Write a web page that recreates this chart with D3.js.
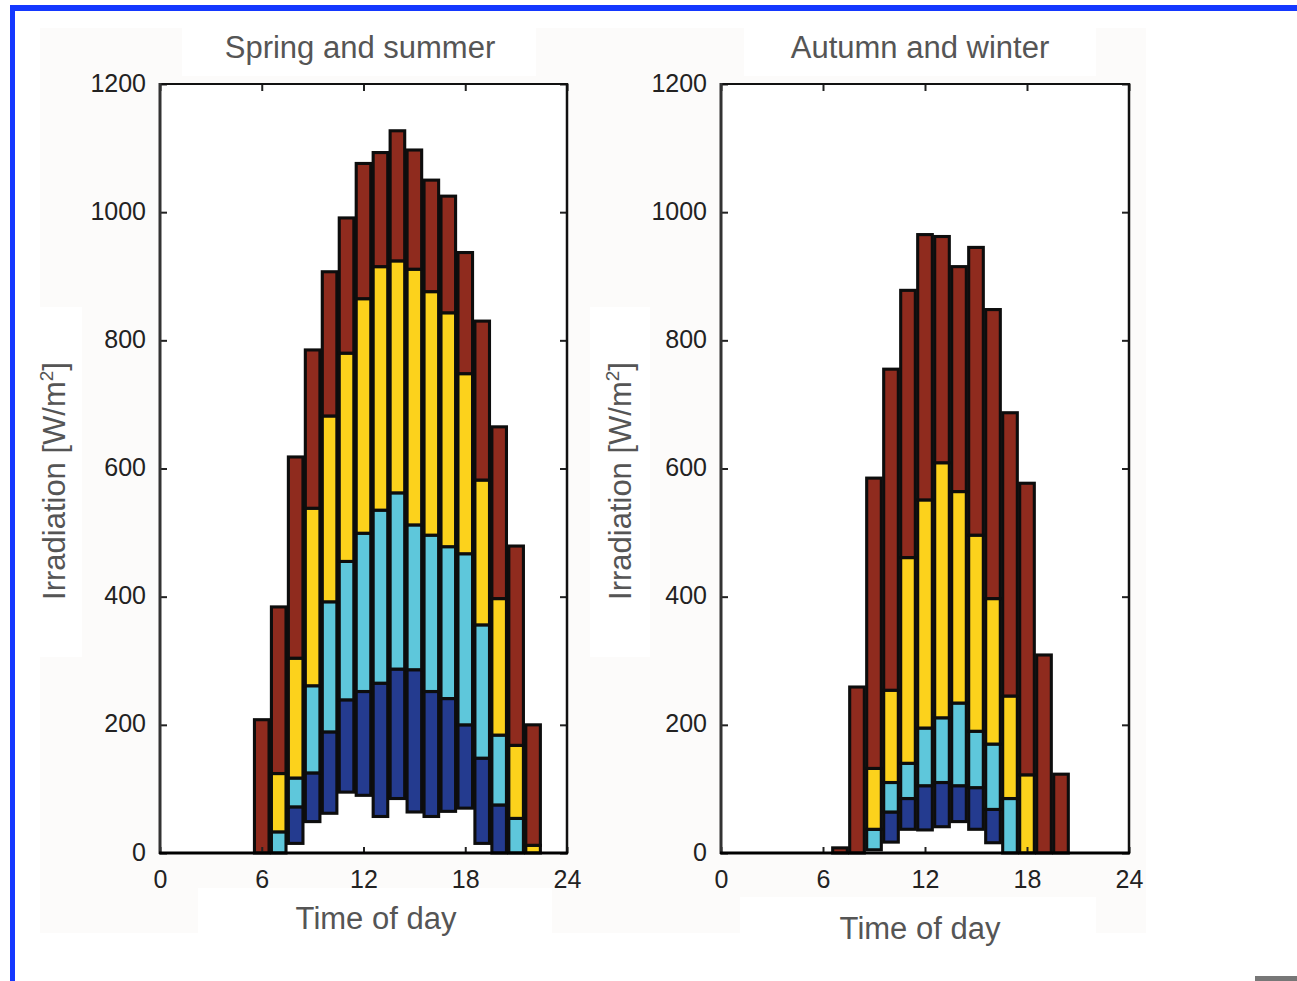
<!DOCTYPE html>
<html><head><meta charset="utf-8">
<script src="https://cdn.jsdelivr.net/npm/d3@7"></script>
<style>
html,body{margin:0;padding:0;background:#fff;}
svg{display:block;}
</style></head>
<body>
<svg id="chart" width="1297" height="981"></svg>
<script>
// ---- Data ----
const panelTitles = ["Spring and summer", "Autumn and winter"];
const xTickValues = [0, 6, 12, 18, 24];
const yTickValues = [0, 200, 400, 600, 800, 1000, 1200];
const seriesColors = ["#243b8f", "#5ec7db", "#fcd21c", "#8f2b1e"]; // blue, cyan, yellow, red

// Spring and summer: cumulative levels per hour
const springHours  = [6, 7, 8, 9, 10, 11, 12, 13, 14, 15, 16, 17, 18, 19, 20, 21, 22];
const springBase   = [0, 0, 15, 49, 62, 95, 90, 57, 85, 64, 57, 65, 70, 15, 0, 0, 0];
const springBlue   = [0, 0, 72, 125, 189, 239, 252, 265, 287, 286, 252, 241, 200, 148, 75, 0, 0];
const springCyan   = [0, 33, 117, 261, 392, 455, 499, 535, 562, 512, 496, 478, 467, 356, 184, 54, 0];
const springYellow = [0, 124, 304, 538, 682, 780, 865, 915, 924, 911, 876, 843, 748, 582, 397, 168, 12];
const springRed    = [208, 384, 618, 785, 907, 991, 1076, 1093, 1127, 1097, 1050, 1025, 937, 830, 665, 479, 200];

// Autumn and winter
const autumnHours  = [7, 8, 9, 10, 11, 12, 13, 14, 15, 16, 17, 18, 19, 20];
const autumnBase   = [0, 0, 5, 17, 37, 36, 41, 49, 37, 16, 0, 0, 0, 0];
const autumnBlue   = [0, 0, 5, 64, 85, 105, 110, 105, 102, 68, 0, 0, 0, 0];
const autumnCyan   = [0, 0, 37, 110, 140, 195, 211, 234, 190, 170, 85, 0, 0, 0];
const autumnYellow = [0, 0, 132, 254, 461, 551, 609, 564, 496, 397, 245, 122, 0, 0];
const autumnRed    = [8, 259, 585, 755, 878, 965, 962, 915, 945, 848, 687, 577, 309, 123];

const svg = d3.select("#chart");
const FONT = "'Liberation Sans', Arial, sans-serif";

// page frame (blue border)
svg.append("rect").attr("x", 10).attr("y", 5).attr("width", 1287).attr("height", 6).attr("fill", "#1438ff");
svg.append("rect").attr("x", 10).attr("y", 5).attr("width", 5).attr("height", 976).attr("fill", "#1438ff");
svg.append("rect").attr("x", 1255).attr("y", 976).attr("width", 42).attr("height", 5).attr("fill", "#777");

// faint pasted-image background
svg.append("rect").attr("x", 40).attr("y", 28).attr("width", 1106).attr("height", 905).attr("fill", "#fcfbfa");
[[182, 28, 354, 48], [744, 28, 352, 48], [40, 307, 42, 350], [590, 307, 60, 350],
 [198, 888, 354, 45], [740, 897, 356, 50]].forEach(b => {
  svg.append("rect").attr("x", b[0]).attr("y", b[1]).attr("width", b[2]).attr("height", b[3]).attr("fill", "#fff");
});

const panels = [
  {title: panelTitles[0], left: 160, right: 567, titleX: 360, ylabX: 65, xlabX: 376, xlabY: 929,
   hours: springHours, levels: [springBase, springBlue, springCyan, springYellow, springRed]},
  {title: panelTitles[1], left: 721, right: 1129, titleX: 920, ylabX: 631, xlabX: 920, xlabY: 939,
   hours: autumnHours, levels: [autumnBase, autumnBlue, autumnCyan, autumnYellow, autumnRed]}
];

panels.forEach(p => {
  const x = d3.scaleLinear().domain([0, 24]).range([p.left, p.right]);
  const y = d3.scaleLinear().domain([0, 1200]).range([853, 84]);
  const g = svg.append("g");

  // plot background
  g.append("rect").attr("x", p.left).attr("y", 84).attr("width", p.right - p.left).attr("height", 769).attr("fill", "#fff");

  // bar segments
  const bw = (x(1) - x(0)) * 0.86;
  const segs = [];
  p.hours.forEach((h, i) => {
    for (let k = 1; k < p.levels.length; k++) {
      const lo = p.levels[k - 1][i], hi = p.levels[k][i];
      if (hi > lo) segs.push({h, lo, hi, c: seriesColors[k - 1]});
    }
  });
  g.selectAll("rect.seg").data(segs).join("rect")
    .attr("class", "seg")
    .attr("x", d => x(d.h) - bw / 2)
    .attr("width", bw)
    .attr("y", d => y(d.hi))
    .attr("height", d => y(d.lo) - y(d.hi))
    .attr("fill", d => d.c)
    .attr("stroke", "#0d0d0d")
    .attr("stroke-width", 3.1);

  // axes
  const fmt = d3.format("d");
  const ax = g.append("g").attr("transform", "translate(0,853)")
    .call(d3.axisBottom(x).tickValues(xTickValues).tickSize(-6).tickPadding(17).tickFormat(fmt));
  const ay = g.append("g").attr("transform", `translate(${p.left},0)`)
    .call(d3.axisLeft(y).tickValues(yTickValues).tickSize(-7).tickPadding(14).tickFormat(fmt));
  const at = g.append("g").attr("transform", "translate(0,84)")
    .call(d3.axisTop(x).tickValues(xTickValues).tickSize(-7).tickFormat(""));
  const ar = g.append("g").attr("transform", `translate(${p.right},0)`)
    .call(d3.axisRight(y).tickValues(yTickValues).tickSize(-7).tickFormat(""));
  [ax, ay, at, ar].forEach(a => {
    a.select(".domain").remove();
    a.selectAll(".tick line").attr("stroke", "#222").attr("stroke-width", 2);
    a.selectAll(".tick text").attr("font-family", FONT).attr("font-size", 25).attr("fill", "#222");
  });
  ay.selectAll(".tick text").attr("dy", "0.28em");

  // box
  g.append("line").attr("x1", p.left).attr("x2", p.right).attr("y1", 84).attr("y2", 84).attr("stroke", "#111").attr("stroke-width", 2);
  g.append("line").attr("x1", p.right).attr("x2", p.right).attr("y1", 83).attr("y2", 854).attr("stroke", "#111").attr("stroke-width", 2.5);
  g.append("line").attr("x1", p.left).attr("x2", p.left).attr("y1", 83).attr("y2", 854).attr("stroke", "#333").attr("stroke-width", 3);
  g.append("line").attr("x1", p.left - 1).attr("x2", p.right + 1).attr("y1", 853).attr("y2", 853).attr("stroke", "#000").attr("stroke-width", 3);

  // title and labels
  g.append("text").attr("x", p.titleX).attr("y", 58).attr("text-anchor", "middle")
    .attr("font-family", FONT).attr("font-size", 31).attr("fill", "#555").text(p.title);
  g.append("text").attr("x", p.xlabX).attr("y", p.xlabY).attr("text-anchor", "middle")
    .attr("font-family", FONT).attr("font-size", 31).attr("fill", "#555").text("Time of day");
  const yl = g.append("text").attr("transform", `translate(${p.ylabX},481) rotate(-90)`).attr("text-anchor", "middle")
    .attr("font-family", FONT).attr("font-size", 31).attr("fill", "#555");
  yl.append("tspan").text("Irradiation [W/m");
  yl.append("tspan").attr("font-size", 19).attr("dy", -12).text("2");
  yl.append("tspan").attr("dy", 12).text("]");
});
</script>
</body></html>
